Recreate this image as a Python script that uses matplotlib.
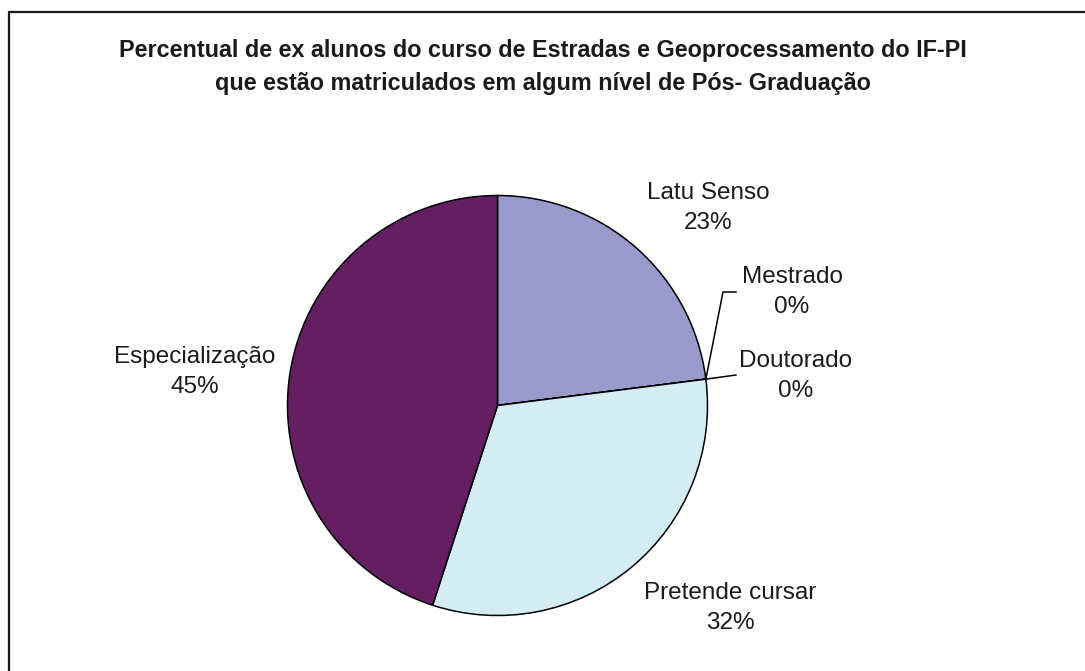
import numpy as np
import matplotlib
matplotlib.use("Agg")
import matplotlib.pyplot as plt
from matplotlib.patches import Rectangle

plt.rcParams['font.family'] = ['Liberation Sans', 'DejaVu Sans']

categories = ["Latu Senso", "Mestrado", "Doutorado", "Pretende cursar", "Especialização"]
values = [23, 0, 0, 32, 45]
colors = ["#9999CC", "#9999CC", "#9999CC", "#D3EDF3", "#631F61"]
title = ("Percentual de ex alunos do curso de Estradas e Geoprocessamento do IF-PI\n"
         "que estão matriculados em algum nível de Pós- Graduação")

W, H = 1085, 671
fig = plt.figure(figsize=(W / 100, H / 100), dpi=100)
ax = fig.add_axes([0, 0, 1, 1])

cx, cy, R = 497.5, H - 405.5, 210
wedges, _ = ax.pie(values, colors=colors, startangle=90, counterclock=False,
                   center=(cx, cy), radius=R, frame=True,
                   wedgeprops=dict(edgecolor='black', linewidth=1.1))
ax.set_xlim(0, W)
ax.set_ylim(0, H)
ax.set_aspect('equal')
ax.axis('off')

# frame
ax.add_patch(Rectangle((9, -20), W + 20, H - 12 + 20, fill=False,
                       edgecolor='#1a1a1a', linewidth=1.6, clip_on=False))

ax.text(543, H - 67, title, ha='center', va='center', fontsize=16.8,
        fontweight='bold', linespacing=1.6, color='#1a1a1a')

fs = 17.5
# label placements (text centres, in pixels from top-left)
label_pos = {
    "Latu Senso": (708, 208),
    "Mestrado": (792, 292),
    "Doutorado": (796, 376),
    "Pretende cursar": (730, 608),
    "Especialização": (195, 372),
}
for name, v in zip(categories, values):
    x, y = label_pos[name]
    ax.text(x, H - y, f"{name}\n{v}%", ha='center', va='center', fontsize=fs,
            linespacing=1.5, color='#1a1a1a')

# leader lines for the zero-size wedges
angles = 90 - np.cumsum([0] + values)[:-1] / 100 * 360
edge_a = np.deg2rad(angles[1] - values[1] / 100 * 180)
ex, ey = cx + R * np.cos(edge_a), cy + R * np.sin(edge_a)
ax.plot([ex, 723, 736], [ey, H - 292, H - 292], color='black', lw=1.1)
ax.plot([ex, 736], [ey, H - 375], color='black', lw=1.1)

fig.savefig("out.png", dpi=100, facecolor='white')
